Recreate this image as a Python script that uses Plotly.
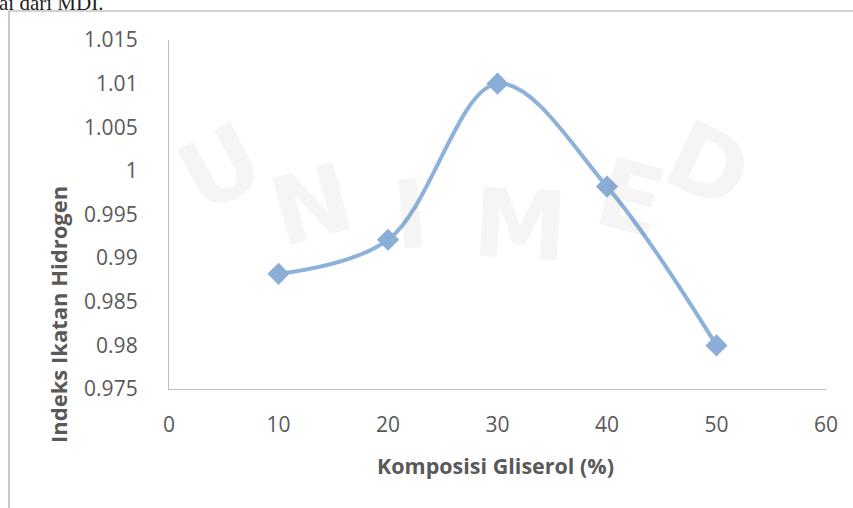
import plotly.graph_objects as go

# Data
komposisi = [10, 20, 30, 40, 50]
indeks = [0.9882, 0.9921, 1.0100, 0.9982, 0.9800]
x_ticks = [0, 10, 20, 30, 40, 50, 60]
y_ticks = [0.975, 0.98, 0.985, 0.99, 0.995, 1.0, 1.005, 1.01, 1.015]
y_tick_text = ["0.975", "0.98", "0.985", "0.99", "0.995", "1", "1.005", "1.01", "1.015"]

W, H = 853, 508
L, R, T, B = 169, 27, 40, 119
pw, ph = W - L - R, H - T - B

def px(xp):
    return (xp - L) / pw

def py(yp):
    return (H - B - yp) / ph

fig = go.Figure()
fig.add_trace(go.Scatter(
    x=komposisi, y=indeks, mode="lines+markers",
    line=dict(color="#8DB1DA", width=4, shape="spline", smoothing=1.0),
    marker=dict(symbol="diamond", size=17, color="#8AAED8"),
    hoverinfo="x+y", showlegend=False,
))

font_main = "Open Sans, Liberation Sans, sans-serif"

fig.update_layout(
    width=W, height=H,
    margin=dict(l=L, r=R, t=T, b=B),
    paper_bgcolor="white", plot_bgcolor="rgba(0,0,0,0)",
    font=dict(family=font_main, color="#595959"),
    xaxis=dict(range=[0, 60], tickvals=x_ticks, showgrid=False, zeroline=False,
               showline=True, linecolor="#BFBFBF", linewidth=1.3,
               tickfont=dict(size=21, color="#595959"), ticks="",
               ticklabelstandoff=17),
    yaxis=dict(range=[0.975, 1.015], tickvals=y_ticks, ticktext=y_tick_text,
               showgrid=False, zeroline=False, showline=True, linecolor="#BFBFBF",
               linewidth=1.3, tickfont=dict(size=21, color="#595959"), ticks="",
               ticklabelstandoff=26),
)

annotations = []
# faint watermark letters
for ch, xx, yy, rot in [("U", 220, 168, -28), ("N", 312, 205, -15), ("I", 410, 215, -5),
                        ("M", 520, 225, 3), ("E", 630, 198, 15), ("D", 708, 165, 25)]:
    annotations.append(dict(text="<b>" + ch + "</b>", x=px(xx), y=py(yy), xref="paper", yref="paper",
                            xanchor="center", yanchor="middle",
                            showarrow=False, textangle=rot,
                            font=dict(family="DejaVu Sans", size=95, color="rgba(120,120,120,0.07)")))
annotations += [
    dict(text="<b>Komposisi Gliserol (%)</b>", x=px(495), y=py(465), xref="paper", yref="paper",
         xanchor="center", yanchor="middle",
         showarrow=False, font=dict(family=font_main, size=21.5, color="#595959")),
    dict(text="<b>Indeks Ikatan Hidrogen</b>", x=px(58), y=py(315), xref="paper", yref="paper",
         xanchor="center", yanchor="middle",
         showarrow=False, textangle=-90, font=dict(family=font_main, size=22, color="#595959")),
    dict(text="ai dari MDI.", x=px(-3), y=py(3), xref="paper", yref="paper",
         xanchor="left", yanchor="middle", showarrow=False,
         font=dict(family="Liberation Serif", size=21, color="#222222")),
]
fig.update_layout(annotations=annotations)

# border box (left and top lines)
fig.add_shape(type="line", xref="paper", yref="paper", x0=px(9), x1=px(860), y0=py(11), y1=py(11),
              line=dict(color="#A6A6A6", width=1.2))
fig.add_shape(type="line", xref="paper", yref="paper", x0=px(9), x1=px(9), y0=py(11), y1=py(520),
              line=dict(color="#A6A6A6", width=1.2))

fig.write_html("out.html", config={"displayModeBar": False},
               post_script="document.body.style.margin='0px';document.body.style.padding='0px';")
